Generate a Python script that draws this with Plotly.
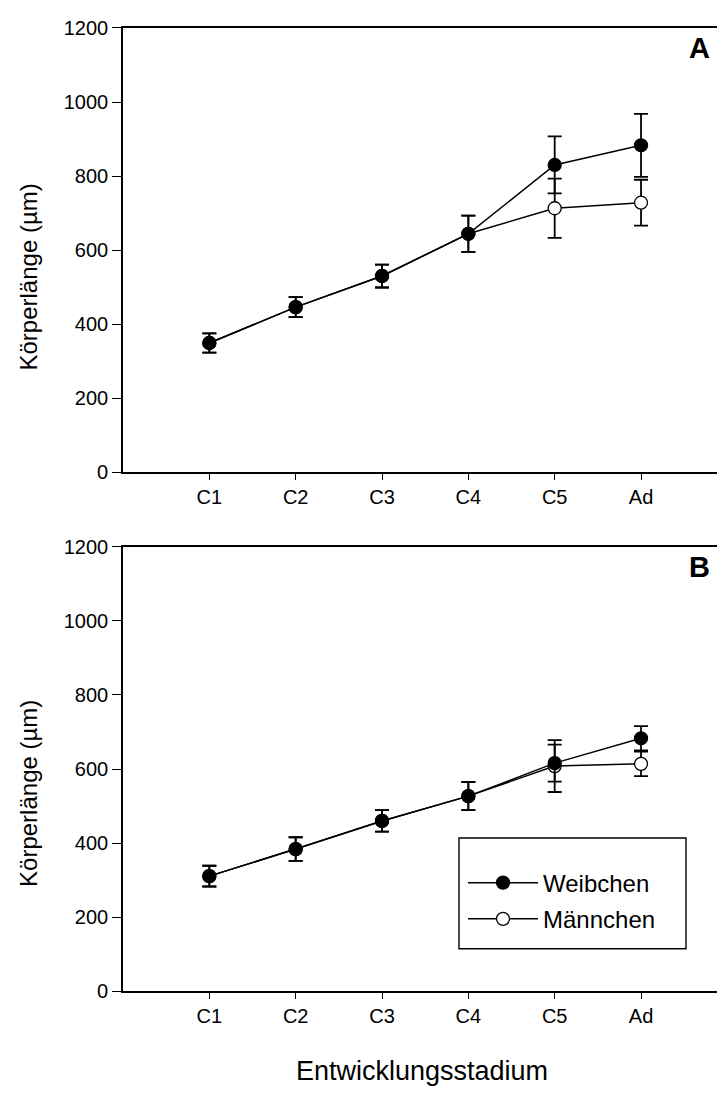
import plotly.graph_objects as go
from plotly.subplots import make_subplots

# Entwicklungsstadien
stages = ["C1", "C2", "C3", "C4", "C5", "Ad"]

# Panel A: Körperlänge (Mittelwert und Standardabweichung, µm)
a_weib = [349, 446, 530, 644, 830, 883]
a_weib_sd = [26, 27, 31, 49, 77, 85]
a_maen = [349, 446, 530, 644, 713, 728]
a_maen_sd = [26, 27, 31, 49, 80, 62]

# Panel B
b_weib = [311, 384, 460, 527, 616, 683]
b_weib_sd = [28, 32, 29, 38, 50, 33]
b_maen = [311, 384, 460, 527, 608, 614]
b_maen_sd = [28, 32, 29, 38, 70, 33]

W, H = 717, 1094
FONT = "Liberation Sans, Arial, sans-serif"

fig = make_subplots(rows=2, cols=1)


def add_series(row, vals, sd, filled, name, show):
    fig.add_trace(
        go.Scatter(
            x=stages, y=vals, name=name, mode="lines+markers",
            line=dict(color="black", width=1.5),
            marker=dict(symbol="circle", size=13,
                        color="black" if filled else "white",
                        line=dict(color="black", width=1.3)),
            error_y=dict(type="data", array=sd, visible=True,
                         color="black", thickness=1.8, width=7),
            showlegend=show, legendrank=1 if filled else 2,
            legendgroup=name,
        ),
        row=row, col=1,
    )


# Männchen zuerst, damit die gefüllten Punkte oben liegen
add_series(1, a_maen, a_maen_sd, False, "Männchen", False)
add_series(1, a_weib, a_weib_sd, True, "Weibchen", False)
add_series(2, b_maen, b_maen_sd, False, "Männchen", True)
add_series(2, b_weib, b_weib_sd, True, "Weibchen", True)

# Achsenbereiche in Pixeln der Seite
a_top, a_bot = 17.3, 470.7
b_top, b_bot = 546.7, 1000.5
left = 123
PW = W - left

xcommon = dict(
    type="category", range=[-1, 5.88], showline=True, linecolor="black",
    linewidth=1.6, mirror=True, ticks="outside", ticklen=6, tickwidth=1.4,
    tickcolor="black", showgrid=False, zeroline=False,
    tickfont=dict(family=FONT, size=20, color="black"),
)
ycommon = dict(
    range=[0, 1200], tickvals=[0, 200, 400, 600, 800, 1000, 1200],
    showline=True, linecolor="black", linewidth=1.6, mirror=False,
    ticks="outside", ticklen=9, tickwidth=1.4, tickcolor="black",
    showgrid=False, zeroline=False,
    tickfont=dict(family=FONT, size=20, color="black"),
)

fig.update_layout(
    width=W, height=H,
    margin=dict(l=left, r=0, t=0, b=0),
    paper_bgcolor="white", plot_bgcolor="white",
    xaxis=dict(xcommon, domain=[0, 1]),
    xaxis2=dict(xcommon, domain=[0, 1]),
    yaxis=dict(ycommon, domain=[1 - a_bot / H, 1 - a_top / H]),
    yaxis2=dict(ycommon, domain=[1 - b_bot / H, 1 - b_top / H]),
    showlegend=True,
    legend=dict(
        x=(463 - left) / PW, y=1 - 867 / H, xanchor="left", yanchor="top",
        bgcolor="rgba(0,0,0,0)", borderwidth=0,
        font=dict(family=FONT, size=24, color="black"),
        itemwidth=70, tracegroupgap=2,
    ),
)

# Legendenrahmen
fig.add_shape(type="rect", xref="paper", yref="paper",
              x0=(459 - left) / PW, x1=(686 - left) / PW,
              y0=1 - 957 / H, y1=1 - 844 / H,
              line=dict(color="black", width=1.4), fillcolor="rgba(0,0,0,0)")

# Achsentitel
for yc in (272, 799):
    fig.add_annotation(text="Körperlänge (µm)", textangle=-90,
                       xref="paper", yref="paper",
                       x=(29 - left) / PW, y=1 - yc / H,
                       xanchor="center", yanchor="middle", showarrow=False,
                       font=dict(family=FONT, size=24, color="black"))
fig.add_annotation(text="Entwicklungsstadium", xref="paper", yref="paper",
                   x=(422 - left) / PW, y=1 - 1082 / H,
                   xanchor="center", yanchor="middle", showarrow=False,
                   font=dict(family=FONT, size=27, color="black"))

# Bezeichnung der Teilabbildungen
for ref, txt in (("y", "A"), ("y2", "B")):
    fig.add_annotation(text=f"<b>{txt}</b>", xref="paper", yref=f"{ref} domain",
                       x=1, y=0.935, xanchor="right", yanchor="middle",
                       xshift=-5, yshift=9, showarrow=False,
                       font=dict(family=FONT, size=29, color="black"))

fig.write_html("out.html")
